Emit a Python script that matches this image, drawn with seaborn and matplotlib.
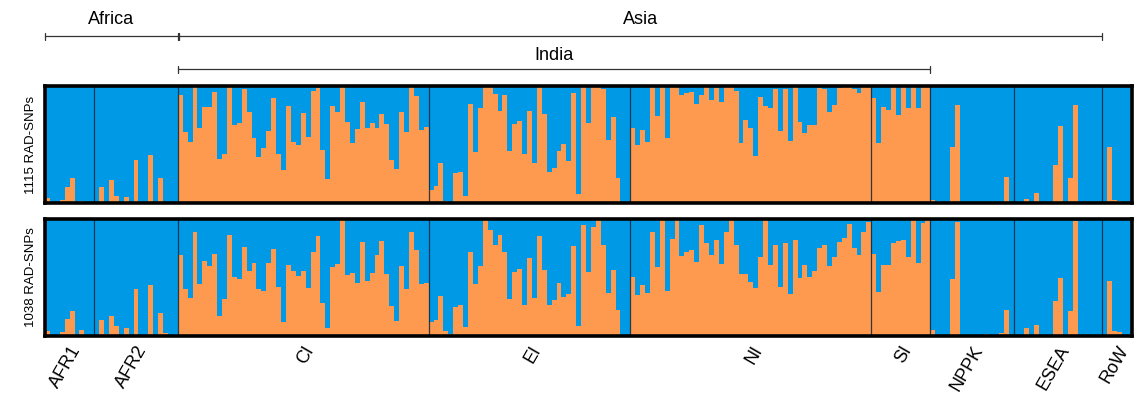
import matplotlib
matplotlib.use("Agg")
import matplotlib.pyplot as plt
import matplotlib.transforms as mtransforms
import seaborn as sns
import numpy as np
import pandas as pd

# population groups, left to right
groups = ["AFR1", "AFR2", "CI", "EI", "NI", "SI", "NPPK", "ESEA", "RoW"]

# orange ancestry fraction per individual, 1115 RAD-SNPs run
top_q = {
    "AFR1": [0.044, 0.01, 0, 0.027, 0.14, 0.21, 0, 0.02, 0, 0],
    "AFR2": [0, 0.14, 0, 0.195, 0.06, 0.005, 0.05, 0.005, 0.37, 0, 0, 0.41, 0, 0.21, 0.005, 0.005, 0],
    "CI": [0.926, 0.607, 0.518, 0.994, 0.639, 0.817, 0.817, 0.95, 0.373, 0.417, 0.994, 0.666, 0.683,
           0.976, 0.781, 0.559, 0.39, 0.47, 0.612, 0.896, 0.417, 0.284, 0.825, 0.518, 0.497,
           0.772, 0.568, 0.959, 0.985, 0.453, 0.204, 0.825, 0.781, 0.994, 0.692, 0.515, 0.63, 0.861,
           0.639, 0.683, 0.639, 0.763, 0.675, 0.364, 0.293, 0.781, 0.604, 0.994, 0.914, 0.621, 0.648],
    "EI": [0.107, 0.142, 0.346, 0.018, 0.0, 0.257, 0.266, 0.062, 0.843, 0.435, 0.808, 0.994, 0.994,
           0.932, 0.79, 0.923, 0.444, 0.675, 0.701, 0.417, 0.79,
           0.346, 0.994, 0.763, 0.266, 0.302, 0.444, 0.506, 0.355, 0.941, 0.08, 0.994, 0.683, 0.994,
           0.994, 0.976, 0.541, 0.737, 0.213, 0, 0],
    "NI": [0.639, 0.497, 0.621, 0.524, 0.994, 0.746, 0.994, 0.559, 0.994, 0.994, 0.923, 0.941, 0.95,
           0.843, 0.923, 0.994, 0.879, 0.985, 0.861, 0.994, 0.994, 0.959, 0.515, 0.71,
           0.639, 0.4, 0.905, 0.825, 0.808, 0.976, 0.612, 0.976, 0.533, 0.994, 0.692, 0.595, 0.666,
           0.666, 0.985, 0.976, 0.781, 0.834, 0.985, 0.994, 0.994, 0.976, 0.941, 0.994, 0.994],
    "SI": [0.896, 0.515, 0.817, 0.799, 0.994, 0.754, 0.994, 0.808, 0.994, 0.808, 0.994, 0.994],
    "NPPK": [0.027, 0.005, 0, 0, 0.479, 0.834, 0, 0, 0, 0, 0, 0, 0, 0, 0.01, 0.222, 0],
    "ESEA": [0, 0.005, 0.036, 0.005, 0.089, 0.005, 0, 0.005, 0.328, 0.657, 0, 0.213, 0.834, 0.005,
             0, 0, 0, 0],
    "RoW": [0.005, 0.479, 0.027, 0.018, 0, 0],
}

# orange ancestry fraction per individual, 1038 RAD-SNPs run
bottom_q = {
    "AFR1": [0.04, 0.01, 0.01, 0.033, 0.148, 0.21, 0, 0.05, 0, 0],
    "AFR2": [0, 0.139, 0.015, 0.175, 0.086, 0.01, 0.068, 0.01, 0.405, 0.01, 0, 0.432, 0.01, 0.2,
             0.024, 0.01, 0],
    "CI": [0.689, 0.405, 0.325, 0.885, 0.441, 0.645, 0.6, 0.698, 0.175, 0.317, 0.867, 0.503, 0.485,
           0.76, 0.556, 0.627, 0.405, 0.388, 0.627, 0.743, 0.423, 0.121, 0.609, 0.556, 0.512, 0.556,
           0.414, 0.716, 0.858, 0.281, 0.068, 0.592, 0.618, 1.0, 0.521, 0.538, 0.45, 0.805, 0.467,
           0.538, 0.689, 0.814, 0.53, 0.254, 0.13, 0.6, 0.405, 0.885, 0.734, 0.441, 0.45],
    "EI": [0.121, 0.139, 0.343, 0.041, 0.015, 0.246, 0.263, 0.077, 0.716, 0.441, 0.6, 1.0, 0.902,
           0.778, 0.867, 0.716, 0.317, 0.547, 0.574, 0.263, 0.663, 0.325, 0.858, 0.565, 0.263, 0.308,
           0.45, 0.334, 0.361, 0.769, 0.086, 0.947, 0.547, 0.929, 1.0, 0.778, 0.37, 0.565, 0.219,
           0.01, 0],
    "NI": [0.503, 0.352, 0.432, 0.37, 0.885, 0.592, 1.0, 0.388, 0.831, 1.0, 0.68, 0.716, 0.734,
           0.636, 0.947, 0.796, 0.689, 0.822, 0.618, 0.885, 1.0, 0.778, 0.53, 0.53, 0.459, 0.414,
           0.672, 0.991, 0.609, 0.778, 0.423, 0.796, 0.361, 0.822, 0.494, 0.609, 0.503, 0.556, 0.751,
           0.778, 0.6, 0.672, 0.805, 0.84, 0.956, 0.751, 0.689, 0.893, 0.973],
    "SI": [0.698, 0.379, 0.609, 0.609, 0.796, 0.814, 0.822, 0.672, 1.0, 0.627, 0.964, 1.0],
    "NPPK": [0.05, 0.01, 0, 0, 0.485, 0.973, 0, 0, 0, 0, 0, 0.015, 0.01, 0, 0.024, 0.219, 0],
    "ESEA": [0, 0.01, 0.068, 0.01, 0.095, 0.01, 0.01, 0.01, 0.299, 0.494, 0, 0.21, 0.982, 0.01,
             0, 0, 0, 0.01],
    "RoW": [0.01, 0.467, 0.041, 0.033, 0, 0],
}

panel_labels = ["1115 RAD-SNPs", "1038 RAD-SNPs"]

BLUE = "#0099e6"
ORANGE = "#fd9a4f"
FONT = ["Liberation Sans", "DejaVu Sans"]


def to_frame(qdict):
    rows = []
    for g in groups:
        for v in qdict[g]:
            rows.append({"pop": g, "q": v})
    d = pd.DataFrame(rows)
    d["ind"] = np.arange(len(d))
    return d


sns.set_style("white")
plt.rcParams["font.family"] = FONT
plt.rcParams["text.color"] = "black"
plt.rcParams["axes.labelcolor"] = "black"
plt.rcParams["xtick.color"] = "black"

fig = plt.figure(figsize=(11.35, 3.96), dpi=100)
W, H = 1135.0, 396.0
left, right = 45 / W, 1132 / W
ax_top = fig.add_axes([left, 1 - 203 / H, right - left, 117 / H])
ax_bot = fig.add_axes([left, 1 - 336 / H, right - left, 117 / H])

sizes = [len(top_q[g]) for g in groups]
bounds = np.cumsum(sizes)
starts = bounds - np.array(sizes)
centers = (starts + bounds) / 2 - 0.5

for ax, qd, lab in [(ax_top, top_q, panel_labels[0]), (ax_bot, bottom_q, panel_labels[1])]:
    d = to_frame(qd)
    # blue (other cluster) fills the rest of each bar
    ax.set_facecolor(BLUE)
    sns.barplot(data=d, x="ind", y="q", color=ORANGE, saturation=1, width=1,
                errorbar=None, linewidth=0, ax=ax)
    for p in ax.patches:
        p.set_antialiased(False)
    for b in bounds[:-1]:
        ax.axvline(b - 0.5, color="#10263a", lw=0.9, alpha=0.85)
    ax.set_xlim(-0.5, len(d) - 0.5)
    ax.set_ylim(0, 1)
    ax.set_yticks([])
    ax.set_xlabel("")
    ax.set_ylabel(lab, fontsize=9.5, labelpad=6)
    for s in ax.spines.values():
        s.set_visible(True)
        s.set_color("black")
        s.set_linewidth(2.6)
    ax.tick_params(axis="x", length=0)

ax_top.set_xticks([])
ax_bot.set_xticks(centers)
ax_bot.set_xticklabels(groups, rotation=60, ha="right", va="top",
                       rotation_mode="anchor", fontsize=13)
ax_bot.tick_params(axis="x", pad=5)

# region brackets above the top panel
trans = mtransforms.blended_transform_factory(ax_top.transData, fig.transFigure)
brackets = [
    ("Africa", -0.5, bounds[1] - 0.5, 1 - 36 / H, 1 - 20 / H),
    ("Asia", bounds[1] - 0.3, bounds[7] - 0.5, 1 - 36 / H, 1 - 20 / H),
    ("India", bounds[1] - 0.5, bounds[5] - 0.5, 1 - 69 / H, 1 - 55 / H),
]
for name, x0, x1, yl, yt in brackets:
    ax_top.plot([x0, x1], [yl, yl], transform=trans, color="#333333", lw=0.9, clip_on=False)
    for xe in (x0, x1):
        ax_top.plot([xe, xe], [yl - 3.5 / H, yl + 3.5 / H], transform=trans,
                    color="#333333", lw=0.9, clip_on=False)
    ax_top.text((x0 + x1) / 2, yt, name, transform=trans, ha="center", va="center",
                fontsize=13)

fig.savefig("out.png", dpi=100)
